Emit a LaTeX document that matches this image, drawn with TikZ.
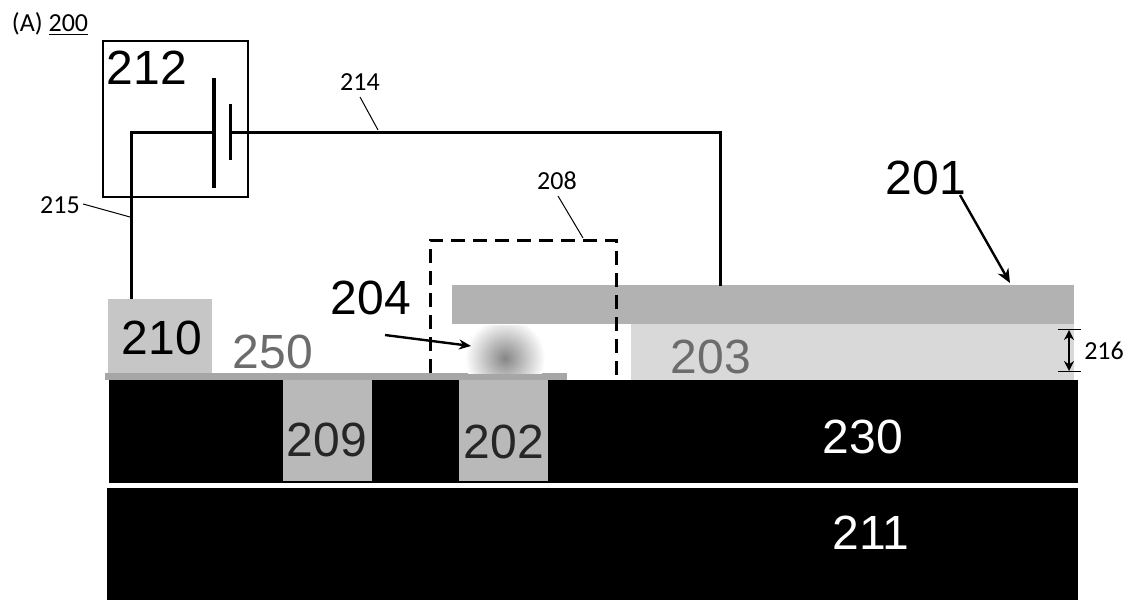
\documentclass[tikz,border=0pt]{standalone}
\usetikzlibrary{arrows.meta}
\usepackage{fontspec}
\setmainfont{Liberation Sans}
\newfontfamily\smallfont{Carlito}
\tikzset{
	biglabel/.style={font=\fontsize{24}{24}\selectfont, inner sep=0pt},
	smalllabel/.style={font=\smallfont\fontsize{13}{13}\selectfont, inner sep=0pt},
	wire/.style={line width=1.5pt, line join=miter},
	leader/.style={line width=.5pt},
	layer/.style={draw=none}
}
\begin{document}
\begin{tikzpicture}[x=.5pt, y=-.5pt, >=stealth]
	\useasboundingbox (0,0) rectangle (1133,600);
	% layers
	\fill[layer, black] (109,380) rectangle (1078,483);
	\fill[layer, black] (107,488) rectangle (1078,600);
	\fill[layer, gray!45] (108,299) rectangle (212,373);
	\fill[layer, gray!70] (105,373) rectangle (567,380);
	\fill[layer, gray!55] (283,380) rectangle (372,481);
	\fill[layer, gray!55] (459,380) rectangle (548,481);
	\fill[layer, gray!30] (631,324) rectangle (1074,380);
	\fill[layer, gray!60] (452,285) rectangle (1074,324);
	\begin{scope}
		\clip (450,325) rectangle (548,373);
		\shade[inner color=gray!95, outer color=white] (505,358) circle (40);
	\end{scope}
	% power supply
	\draw[line width=.6pt] (103,41) rectangle (248,197);
	\coordinate (plateL) at (214,132);
	\coordinate (plateR) at (230,132);
	\coordinate (contactL) at (131,299);
	\coordinate (contactR) at (720,286);
	\draw[wire] (contactL) |- (plateL);
	\draw[wire] (plateR) -| (contactR);
	\draw[line width=2pt] (214,78)--(214,188);
	\draw[line width=1.5pt] (230,104)--(230,160);
	% dashed region
	\draw[dashed, line width=1.5pt, dash pattern=on 7pt off 4pt] (430,373)--(430,240)--(616,240)--(616,380);
	% labels
	\node[smalllabel] (fig) at (50,24) {(A) \underline{200}};
	\node[biglabel] (n212) at (147,68) {212};
	\node[smalllabel] (n214) at (360,82) {214};
	\node[smalllabel] (n215) at (60,205) {215};
	\node[smalllabel] (n208) at (557,181) {208};
	\node[biglabel] (n201) at (926,178) {201};
	\node[biglabel] (n204) at (371,298) {204};
	\node[biglabel] (n210) at (162,338) {210};
	\node[biglabel, text=gray!85!black] (n250) at (273,352) {250};
	\node[biglabel, text=gray!85!black] (n203) at (711,357) {203};
	\node[biglabel, text=white] (n230) at (863,437) {230};
	\node[biglabel, text=white] (n211) at (871,533) {211};
	\node[biglabel, text=black!85] (n209) at (327,440) {209};
	\node[biglabel, text=black!85] (n202) at (504,442) {202};
	\node[smalllabel] (n216) at (1104,351) {216};
	% leaders and arrows
	\coordinate (e214) at (378,130);
	\coordinate (e215) at (130,217);
	\coordinate (e208) at (583,238);
	\coordinate (e201) at (1010,283);
	\coordinate (e204) at (471,346);
	\draw[leader] (360,97)--(e214);
	\draw[leader] (n215.east)++(3,-1)--(e215);
	\draw[leader] (558,196)--(e208);
	\draw[-{Stealth[length=7pt,width=6pt]}, line width=1.2pt] (960,195)--(e201);
	\draw[-{Stealth[length=6pt,width=5pt]}, line width=1.2pt] (385,335)--(e204);
	% thickness marker
	\draw[{Stealth[length=5pt,width=5pt]}-{Stealth[length=5pt,width=5pt]}, line width=.7pt] (1069,330)--(1069,371);
	\draw[line width=.5pt] (1058,329)--(1081,329) (1058,371)--(1081,371);
\end{tikzpicture}
\end{document}
